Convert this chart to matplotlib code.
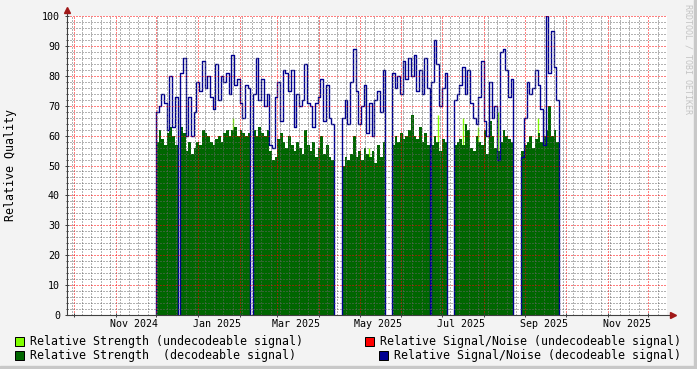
import numpy as np
import matplotlib
matplotlib.use("Agg")
import matplotlib.pyplot as plt
import matplotlib.dates as mdates
from matplotlib.patches import Rectangle
from matplotlib.ticker import MultipleLocator, NullFormatter

# data: one value every 2 days, gaps between segments have no data
seg_starts = ['2024-12-01', '2024-12-19', '2025-02-11', '2025-04-18',
              '2025-05-25', '2025-06-23', '2025-07-10', '2025-08-29']

snr_decodeable = [
    [68, 70, 74, 71, 62, 80, 63, 73],
    [81, 86, 60, 73, 60, 68, 78, 75, 85, 76, 80, 73, 69, 84, 72, 80, 78, 81, 74, 87,
     77, 79, 71, 66, 77, 76],
    [74, 86, 72, 79, 70, 74, 57, 56, 73, 78, 65, 82, 81, 75, 82, 63, 74, 70, 72, 84,
     71, 70, 63, 71, 73, 79, 65, 77, 66, 64],
    [66, 72, 64, 78, 89, 75, 64, 70, 77, 61, 71, 60, 72, 75, 68, 82],
    [81, 76, 80, 74, 85, 79, 86, 80, 87, 75, 82, 74, 86, 76],
    [78, 92, 84, 70, 76, 81],
    [72, 74, 77, 83, 74, 82, 71, 66, 64, 73, 85, 65, 60, 78, 66, 70, 52, 88, 89, 82,
     73, 79],
    [53, 66, 78, 74, 76, 82, 77, 69, 57, 100, 81, 95, 83, 72],
]

strength_decodeable = [
    [58, 62, 59, 57, 61, 63, 60, 57],
    [63, 61, 55, 58, 54, 56, 58, 57, 62, 61, 60, 58, 57, 59, 60, 58, 61, 62, 60, 62,
     63, 60, 62, 61, 60, 61],
    [62, 60, 63, 61, 60, 62, 55, 52, 53, 59, 61, 58, 56, 60, 57, 55, 58, 56, 54, 62,
     57, 55, 58, 53, 56, 60, 54, 57, 53, 52],
    [50, 53, 52, 54, 60, 53, 55, 52, 56, 54, 53, 55, 51, 57, 53, 58],
    [57, 60, 58, 61, 59, 60, 62, 67, 60, 59, 63, 58, 61, 57],
    [57, 60, 58, 55, 59, 58],
    [57, 58, 59, 57, 64, 62, 56, 55, 60, 58, 57, 62, 54, 65, 60, 56, 55, 58, 62, 60,
     59, 58],
    [55, 57, 58, 60, 56, 59, 61, 58, 60, 62, 70, 60, 62, 58],
]

# undecodeable strength only shows as a few spikes
spike_dates = ['2025-01-27', '2025-05-08', '2025-06-28', '2025-07-17',
               '2025-07-28', '2025-08-12', '2025-09-10']
spike_values = [66, 56, 67, 66, 63, 68, 66]

label_dates = ['2024-11-15', '2025-01-15', '2025-03-15', '2025-05-15',
               '2025-07-15', '2025-09-15', '2025-11-15']
label_texts = ['Nov 2024', 'Jan 2025', 'Mar 2025', 'May 2025',
               'Jul 2025', 'Sep 2025', 'Nov 2025']

legend_labels = ['Relative Strength (undecodeable signal)',
                 'Relative Signal/Noise (undecodeable signal)',
                 'Relative Strength  (decodeable signal)',
                 'Relative Signal/Noise (decodeable signal)']

light_green = '#80FF00'
dark_green = '#006600'
red = '#FF0000'
blue = '#000090'
legend_colors = [light_green, red, dark_green, blue]

plt.rcParams['font.family'] = 'DejaVu Sans Mono'
plt.rcParams['lines.scale_dashes'] = False

W, H = 697, 369
fig = plt.figure(figsize=(W / 100, H / 100), dpi=100, facecolor='#F3F3F3')
ax = fig.add_axes([67 / W, 54 / H, 600 / W, 299 / H])
ax.set_facecolor('white')

step = np.timedelta64(2, 'D')
for start, snr, strength in zip(seg_starts, snr_decodeable, strength_decodeable):
    t = np.datetime64(start) + step * np.arange(len(snr) + 1)
    tn = mdates.date2num(t)
    ax.fill_between(tn, 0, list(strength) + [strength[-1]], step='post',
                    color=dark_green, lw=0, zorder=1)
    tx = np.concatenate([[tn[0]], tn])
    ty = [0] + list(snr) + [0]
    ax.step(tx, ty, where='post', color=blue, lw=1.0, zorder=2)

ax.vlines(mdates.date2num(np.array(spike_dates, dtype='datetime64[D]')), 0, spike_values,
          color=light_green, lw=1.0, zorder=0.9)

ax.set_xlim(mdates.date2num(np.datetime64('2024-09-26')),
            mdates.date2num(np.datetime64('2025-12-15')))
ax.set_ylim(0, 100)

ax.xaxis.set_major_locator(mdates.MonthLocator())
ax.xaxis.set_minor_locator(mdates.WeekdayLocator(byweekday=mdates.MO))
ax.xaxis.set_major_formatter(NullFormatter())
ax.yaxis.set_major_locator(MultipleLocator(10))
ax.yaxis.set_minor_locator(MultipleLocator(2))

ax.set_axisbelow(False)
ax.grid(which='major', color=(1, 0, 0, 0.35), lw=0.72, ls=(0, (0.72, 1.44)))
ax.grid(which='minor', color=(0.4, 0.4, 0.4, 0.3), lw=0.72, ls=(0, (0.72, 1.44)))

for s in ax.spines.values():
    s.set_visible(False)
ax.tick_params(which='major', direction='inout', length=3, width=0.72, color='#404040',
               labelsize=7.2, pad=3.6)
ax.tick_params(which='minor', direction='inout', length=1.5, width=0.72, color='#404040')
ax.tick_params(axis='x', which='minor', length=0)

for d, txt in zip(label_dates, label_texts):
    ax.annotate(txt, xy=(mdates.date2num(np.datetime64(d)), 0),
                xycoords=('data', 'axes fraction'), xytext=(0, -6.6),
                textcoords='offset points', ha='center', va='center', fontsize=7.2)

# axis lines with arrows
axis_col = '#404040'
arrow_col = '#A01818'
ax.plot([0, 0], [0, 1.015], transform=ax.transAxes, color=axis_col, lw=0.8,
        clip_on=False, zorder=5)
ax.plot([0, 1.008], [0, 0], transform=ax.transAxes, color=axis_col, lw=0.8,
        clip_on=False, zorder=5)
ax.plot([0], [1.02], marker='^', ms=4.5, color=arrow_col, transform=ax.transAxes,
        clip_on=False, zorder=6)
ax.plot([1.01], [0], marker='>', ms=4.5, color=arrow_col, transform=ax.transAxes,
        clip_on=False, zorder=6)

fig.text(11 / W, 1 - 165 / H, 'Relative Quality', rotation=90, ha='center',
         va='center', fontsize=8.4)
fig.text(688 / W, 1 - 4 / H, 'RRDTOOL / TOBI OETIKER', rotation=270, ha='center',
         va='top', fontsize=6, color='#C4C4C4')

# legend
char_w = 7.0
rows_y = [341, 355]
for i, (lab, col) in enumerate(zip(legend_labels, legend_colors)):
    y = rows_y[i // 2]
    if i % 2 == 0:
        x0 = 30
    else:
        x0 = 681 - char_w * len(lab)
    fig.patches.append(Rectangle(((x0 - 15) / W, 1 - (y + 4.5) / H), 9 / W, 9 / H,
                                 transform=fig.transFigure, facecolor=col,
                                 edgecolor='black', lw=0.72))
    fig.text(x0 / W, 1 - y / H, lab, ha='left', va='center', fontsize=8.4)

# frame shading
fig.patches.append(Rectangle((694 / W, 0), 3 / W, 1, transform=fig.transFigure,
                             color='#C8C8C8'))
fig.patches.append(Rectangle((0, 0), 1, 3 / H, transform=fig.transFigure,
                             color='#C8C8C8'))

fig.savefig('out.png', dpi=100, facecolor=fig.get_facecolor())
